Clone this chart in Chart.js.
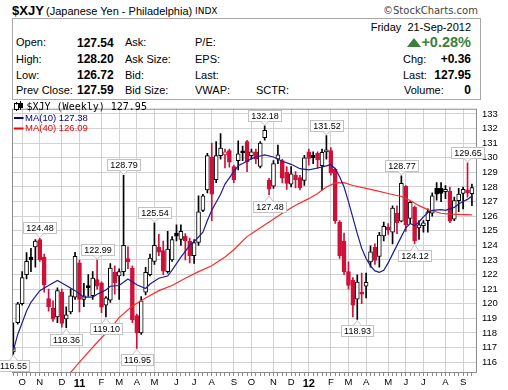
<!DOCTYPE html>
<html>
<head>
<meta charset="utf-8">
<script src="https://cdn.jsdelivr.net/npm/chart.js@4.4.0/dist/chart.umd.min.js"></script>
<style>
body{margin:0;background:#fff;}
#wrap{position:relative;width:508px;height:390px;overflow:hidden;font-family:"Liberation Sans",Arial,sans-serif;color:#000;}
.t{position:absolute;white-space:nowrap;font-size:11px;line-height:11px;}
.v{position:absolute;white-space:nowrap;font-size:12px;line-height:12px;font-weight:bold;}
.r{right:37px;}
#box{position:absolute;left:12px;top:18px;width:467px;height:80px;border:1px solid #a8a8a8;}
#tri{position:absolute;left:407px;top:38px;width:0;height:0;border-left:7px solid transparent;border-right:7px solid transparent;border-bottom:9px solid #3a7f3a;}
#cv{position:absolute;left:0;top:98px;}
</style>
</head>
<body>
<div id="wrap">
  <div class="t" style="left:12px;top:4px;font-size:13px;line-height:13px;font-weight:bold;">$XJY</div>
  <div class="t" style="left:46px;top:5.7px;">(Japanese Yen - Philadelphia)</div>
  <div class="t" style="left:195px;top:7.4px;font-family:'DejaVu Sans';font-size:9px;line-height:9px;">INDX</div>
  <div class="t" style="left:383px;top:5.5px;font-family:'DejaVu Sans';font-size:10px;line-height:10px;color:#444;">©StockCharts.com</div>
  <div id="box"></div>
  <div class="t r" style="top:21.7px;">Friday&nbsp;&nbsp;21-Sep-2012</div>

  <div class="t" style="left:16px;top:37.4px;">Open:</div>
  <div class="v" style="left:77px;top:36.5px;">127.54</div>
  <div class="t" style="left:125px;top:37.4px;">Ask:</div>
  <div class="t" style="left:195px;top:37.4px;">P/E:</div>
  <div id="tri"></div>
  <div class="t r" style="top:35px;font-size:14.5px;line-height:14.5px;font-weight:bold;color:#3a7f3a;">+0.28%</div>

  <div class="t" style="left:16px;top:54px;">High:</div>
  <div class="v" style="left:77px;top:53.1px;">128.20</div>
  <div class="t" style="left:125px;top:54px;">Ask Size:</div>
  <div class="t" style="left:195px;top:54px;">EPS:</div>
  <div class="t" style="left:403px;top:54px;">Chg:</div>
  <div class="v r" style="top:53.1px;">+0.36</div>

  <div class="t" style="left:16px;top:69.7px;">Low:</div>
  <div class="v" style="left:77px;top:68.8px;">126.72</div>
  <div class="t" style="left:125px;top:69.7px;">Bid:</div>
  <div class="t" style="left:195px;top:69.7px;">Last:</div>
  <div class="t" style="left:403px;top:69.7px;">Last:</div>
  <div class="v r" style="top:68.8px;">127.95</div>

  <div class="t" style="left:16px;top:85px;">Prev Close:</div>
  <div class="v" style="left:77px;top:84.1px;">127.59</div>
  <div class="t" style="left:125px;top:85px;">Bid Size:</div>
  <div class="t" style="left:195px;top:85px;">VWAP:</div>
  <div class="t" style="left:256px;top:85px;">SCTR:</div>
  <div class="t" style="left:404px;top:85px;">Volume:</div>
  <div class="v r" style="top:84.1px;">0</div>

  <canvas id="cv" width="508" height="292"></canvas>
</div>
<script>
// weekly bars, first bar = week of Mon 20-Sep-2010, last = week of 17-Sep-2012
var opens = [116.7,118.7,120.0,122.0,123.2,123.9,124.4,123.2,120.35,119.7,
  119.1,120.8,118.97,119.45,120.45,122.8,120.3,121.25,120.55,121.65,
  121.43,119.9,120.25,122.15,121.9,122.2,123.1,122.42,119.2,118.0,
  120.8,122.0,122.9,123.87,123.64,122.2,123.0,124.85,124.41,124.63,
  124.3,123.3,124.2,126.4,127.8,130.05,128.5,130.15,130.2,130.5,
  129.4,129.8,130.45,131.1,130.15,130.4,129.4,131.37,128.45,128.06,
  129.9,129.8,129.0,128.2,128.8,128.65,128.44,130.4,130.16,130.3,
  129.45,130.4,130.5,129.2,125.6,124.3,122.2,121.6,120.32,120.8,
  121.2,122.87,123.86,123.25,124.65,125.25,124.9,126.2,125.65,128.05,
  125.85,126.6,125.2,125.35,125.7,126.2,127.9,127.9,127.68,127.7,
  125.8,127.07,127.55,127.8,127.54];
var highs = [118.7,120.1,122.2,123.5,123.8,124.4,124.48,123.4,121.0,120.2,
  121.1,121.0,119.8,121.0,123.53,123.0,121.4,122.0,122.2,122.99,
  121.5,120.5,122.75,122.6,122.4,128.79,123.9,122.6,119.3,120.5,
  122.5,123.4,125.54,124.75,124.3,124.96,124.6,125.4,125.4,124.8,
  124.5,124.4,127.4,127.5,130.3,131.0,131.1,131.66,130.6,130.6,
  129.5,131.16,130.8,131.2,130.6,130.6,131.1,132.18,128.6,129.8,
  130.87,129.9,129.4,129.4,129.05,128.8,130.16,130.6,130.4,130.4,
  130.6,131.52,130.7,129.3,125.7,124.85,122.87,121.8,121.98,122.1,
  122.1,123.97,124.1,124.9,125.6,125.5,126.7,126.7,128.77,128.1,
  127.0,126.7,125.7,125.7,126.5,127.6,128.3,128.3,128.1,128.0,
  127.3,127.9,128.0,129.65,128.2];
var lows = [116.55,118.6,119.9,121.7,122.2,122.5,122.9,120.8,119.5,118.8,
  118.7,118.4,118.36,119.3,120.3,119.45,119.8,120.5,120.3,121.0,
  119.4,119.10,120.1,120.65,120.3,121.9,122.4,118.7,116.95,117.9,
  120.6,121.9,122.7,123.3,122.0,122.1,122.9,124.3,124.0,123.0,
  122.8,122.76,124.0,126.3,127.6,125.7,128.3,129.9,129.3,129.35,
  128.3,129.17,129.8,129.05,129.9,129.6,129.3,131.2,127.48,127.9,
  129.6,128.28,127.84,128.0,127.94,127.8,128.1,129.5,129.6,129.27,
  127.8,129.9,128.8,125.5,123.1,122.0,121.0,119.1,118.93,120.0,
  120.4,122.5,122.7,122.5,124.3,124.75,124.1,124.8,125.6,124.95,
  125.5,124.12,124.4,124.9,124.9,126.0,127.1,127.0,127.2,125.55,
  125.7,126.3,126.5,127.3,126.72];
var closes = [117.0,120.0,121.8,122.9,123.0,124.3,123.0,121.3,119.8,118.95,
  120.9,118.65,119.24,120.55,123.25,120.3,120.55,121.1,121.76,121.2,
  119.77,120.4,122.45,121.43,122.2,124.0,122.87,118.9,118.0,120.2,
  122.15,123.13,124.0,123.53,122.24,123.75,124.4,124.63,124.96,124.3,
  123.3,124.2,126.3,127.4,130.15,127.5,130.15,130.67,130.4,129.7,
  128.5,130.27,130.34,129.72,130.4,129.9,131.0,131.88,127.85,129.6,
  130.2,128.6,128.25,128.9,128.5,127.95,130.0,129.95,130.0,129.85,
  130.38,130.55,128.95,125.7,123.3,122.2,121.25,119.9,121.48,120.65,
  121.47,123.56,122.97,124.7,125.3,125.05,126.55,125.55,128.25,125.4,
  126.95,124.3,125.4,125.55,126.3,127.4,127.5,127.55,127.84,125.65,
  127.07,127.51,127.84,127.59,127.95];

// moving averages at sample weeks
var ma10Weeks = [0,1,3,4,6,8,10,12,14,16,18,19,21,22,24,26,28,30,31,33,
  35,36,38,40,41,43,44,45,47,48,50,51,53,54,56,57,59,61,63,65,
  67,69,71,72,73,74,75,76,77,78,79,80,81,82,83,84,85,86,87,88,
  89,90,91,92,93,94,95,97,98,100,101,102,103,104];
var ma10 = [116.8,117.9,119.5,120.1,120.9,121.25,121.6,121.25,120.9,120.45,
  120.45,120.65,120.95,121.2,121.25,121.7,121.3,121.05,121.35,121.75,
  121.9,122.3,123.2,124.0,124.25,124.9,125.7,126.4,127.5,128.2,
  129.05,129.45,129.76,129.94,130.12,130.2,130.05,129.76,129.55,129.25,
  129.17,129.3,129.45,129.52,129.25,128.7,128.0,127.0,125.9,124.8,
  123.8,123.1,122.6,122.25,122.15,122.3,122.8,123.4,124.0,124.6,
  125.2,125.5,125.35,125.6,125.95,126.25,126.4,126.45,126.4,126.6,
  126.84,127.0,127.15,127.38];
var ma40Weeks = [12,13,16,19,22,24,27,30,33,36,39,42,45,48,50,53,55,58,61,64,
  67,69,71,73,75,77,80,82,85,88,90,92,94,97,99,101,104];
var ma40 = [114.9,115.3,116.35,117.35,118.3,119.05,119.85,120.4,120.9,121.25,
  121.75,122.2,122.6,123.2,123.7,124.6,125.0,125.6,126.2,126.75,
  127.2,127.55,128.0,128.28,128.3,128.1,127.9,127.77,127.55,127.35,
  127.07,126.72,126.45,126.2,126.14,126.12,126.09];

var highTags = [6,19,25,32,57,71,88,103];
var lowTags = [0,12,21,28,58,78,91];
var yTicks = [116,117,118,119,120,121,122,123,124,125,126,127,128,129,130,131,132,133];
var monthLetters = ['J','F','M','A','M','J','J','A','S','O','N','D'];

var RED = '#d0103a', BLACK = '#000000';
var weekIdx = opens.map(function(o, i){ return i; });

// month label on the first bar whose Monday falls in a new month
var xLabels = weekIdx.map(function(i){
  if (i === 0) return '';
  var d = new Date(2010, 8, 20 + 7 * i);
  var p = new Date(2010, 8, 20 + 7 * (i - 1));
  if (d.getMonth() === p.getMonth()) return '';
  return d.getMonth() === 0 ? String(d.getFullYear() % 100) : monthLetters[d.getMonth()];
});

var candleColor = closes.map(function(c, i){ return i > 0 && c < closes[i-1] ? RED : BLACK; });
var bodyFill = closes.map(function(c, i){ return c < opens[i] ? candleColor[i] : '#ffffff'; });

var overlay = {
  id: 'overlay',
  afterDatasetsDraw: function(chart) {
    var ctx = chart.ctx, a = chart.chartArea, x = chart.scales.x, y = chart.scales.y;
    ctx.save();
    ctx.strokeStyle = '#8c8c8c';
    ctx.lineWidth = 1;
    ctx.strokeRect(a.left + 0.5, a.top + 0.5, a.right - a.left - 1, a.bottom - a.top - 1);

    ctx.font = '9px "Liberation Sans", Arial, sans-serif';
    function tag(i, val, above) {
      var px = x.getPixelForValue(i), py = y.getPixelForValue(val);
      var txt = val.toFixed(2);
      var w = Math.round(ctx.measureText(txt).width) + 5, h = 11;
      var bx = Math.round(px - w / 2) + 0.5;
      var by = above ? Math.round(py - 5 - h) + 0.5 : Math.round(py + 6) + 0.5;
      ctx.fillStyle = '#fff';
      ctx.fillRect(bx, by, w, h);
      ctx.strokeStyle = '#c2c2c2';
      ctx.strokeRect(bx, by, w, h);
      var edge = above ? by + h : by, tip = above ? py - 1 : py + 1;
      ctx.beginPath();
      ctx.moveTo(px - 4, edge);
      ctx.lineTo(px, tip);
      ctx.lineTo(px + 4, edge);
      ctx.closePath();
      ctx.fill();
      ctx.beginPath();
      ctx.moveTo(px - 4, edge);
      ctx.lineTo(px, tip);
      ctx.lineTo(px + 4, edge);
      ctx.stroke();
      ctx.fillStyle = '#000';
      ctx.textAlign = 'center';
      ctx.textBaseline = 'middle';
      ctx.fillText(txt, bx + w / 2, by + h / 2 + 0.5);
    }
    highTags.forEach(function(i){ tag(i, highs[i], true); });
    lowTags.forEach(function(i){ tag(i, lows[i], false); });

    // legend
    ctx.textAlign = 'left';
    ctx.textBaseline = 'middle';
    ctx.strokeStyle = '#000';
    ctx.fillStyle = '#000';
    ctx.beginPath();
    ctx.moveTo(16.5, 4); ctx.lineTo(16.5, 13);
    ctx.moveTo(20.5, 3); ctx.lineTo(20.5, 12);
    ctx.stroke();
    ctx.fillStyle = '#fff';
    ctx.fillRect(15.5, 6.5, 2, 5);
    ctx.strokeRect(14.5, 5.5, 4, 6);
    ctx.fillStyle = '#000';
    ctx.fillRect(19, 5, 4, 5);
    ctx.font = '10px "DejaVu Sans Mono", monospace';
    ctx.fillText('$XJY (Weekly) 127.95', 26.5, 9);

    ctx.lineWidth = 2;
    ctx.font = '9.5px "Liberation Sans", Arial, sans-serif';
    ctx.strokeStyle = '#000080';
    ctx.beginPath(); ctx.moveTo(14, 20); ctx.lineTo(23.5, 20); ctx.stroke();
    ctx.fillStyle = '#000080';
    ctx.fillText('MA(10) 127.38', 25, 20);
    ctx.strokeStyle = '#ee0000';
    ctx.beginPath(); ctx.moveTo(14, 30.5); ctx.lineTo(23.5, 30.5); ctx.stroke();
    ctx.fillStyle = '#ee0000';
    ctx.fillText('MA(40) 126.09', 25, 30.5);
    ctx.restore();
  }
};

new Chart(document.getElementById('cv'), {
  type: 'bar',
  data: {
    datasets: [{
      type: 'line',
      data: ma10Weeks.map(function(w, k){ return {x: w, y: ma10[k]}; }),
      borderColor: '#1d1d90',
      borderWidth: 1.2,
      pointRadius: 0,
      tension: 0,
      order: 0
    }, {
      type: 'line',
      data: ma40Weeks.map(function(w, k){ return {x: w, y: ma40[k]}; }),
      borderColor: '#ff2a2a',
      borderWidth: 1.2,
      pointRadius: 0,
      tension: 0,
      order: 0
    }, {
      type: 'bar',
      data: weekIdx.map(function(i){ return {x: i, y: [opens[i], closes[i]]}; }),
      backgroundColor: bodyFill,
      borderColor: candleColor,
      borderWidth: 1,
      borderSkipped: false,
      barThickness: 4,
      minBarLength: 2,
      grouped: false,
      order: 1
    }, {
      type: 'bar',
      data: weekIdx.map(function(i){ return {x: i, y: [lows[i], highs[i]]}; }),
      backgroundColor: candleColor,
      borderWidth: 0,
      barThickness: 1,
      grouped: false,
      order: 2
    }]
  },
  options: {
    responsive: false,
    animation: false,
    events: [],
    layout: {padding: {left: 12, top: 2, right: 0, bottom: 0}},
    plugins: {legend: {display: false}, tooltip: {enabled: false}},
    scales: {
      x: {
        type: 'linear',
        min: -0.3,
        max: 105.15,
        offset: false,
        afterBuildTicks: function(s){ s.ticks = weekIdx.map(function(v){ return {value: v}; }); },
        afterFit: function(s){ s.height = 17; },
        border: {display: false},
        grid: {
          offset: false,
          color: function(c){ return c.tick && xLabels[c.tick.value] ? '#d2d2d2' : 'rgba(0,0,0,0)'; },
          tickColor: '#8a8a8a',
          tickLength: 3
        },
        ticks: {
          autoSkip: false,
          maxRotation: 0,
          minRotation: 0,
          padding: 1,
          color: '#000',
          font: function(c){
            var lab = c.tick ? xLabels[c.tick.value] : '';
            return {family: '"Liberation Sans", Arial, sans-serif', size: /\d/.test(lab) ? 11 : 9.5, weight: /\d/.test(lab) ? 'bold' : 'normal'};
          },
          callback: function(v){ return xLabels[v] || ''; }
        }
      },
      y: {
        position: 'right',
        min: 115.26,
        max: 133.36,
        afterBuildTicks: function(s){ s.ticks = yTicks.map(function(v){ return {value: v}; }); },
        afterFit: function(s){ s.width = 31; },
        border: {display: false},
        grid: {color: '#d2d2d2', drawTicks: false},
        ticks: {
          padding: 5,
          color: '#000',
          font: {family: '"Liberation Sans", Arial, sans-serif', size: 9.5}
        }
      }
    }
  },
  plugins: [overlay]
});
</script>
</body>
</html>
